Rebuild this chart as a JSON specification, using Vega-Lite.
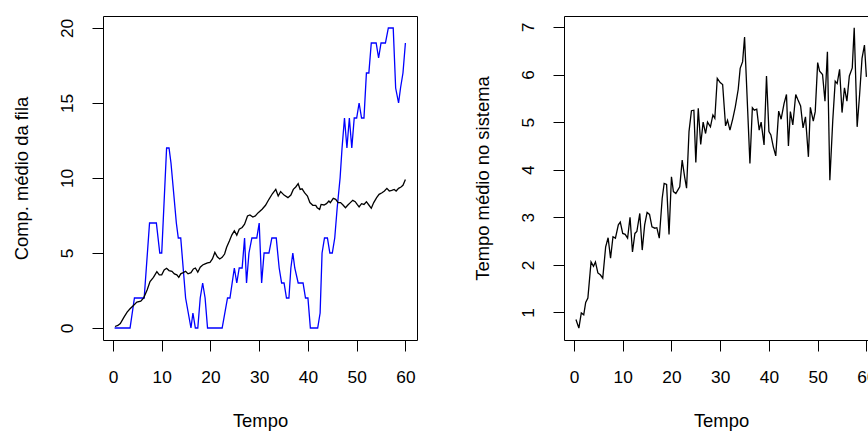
{
  "$schema": "https://vega.github.io/schema/vega-lite/v6.json",
  "background": "white",
  "padding": {"left": 11, "top": 15, "right": 0, "bottom": 0},
  "config": {
    "font": "Liberation Sans",
    "view": {"stroke": "black", "strokeWidth": 1},
    "axis": {"grid": false, "domain": false, "tickColor": "black", "tickSize": 11, "tickWidth": 1,
      "labelFontSize": 17.3, "titleFontSize": 18.4, "labelColor": "black", "titleColor": "black",
      "titleFontWeight": "normal", "labelFont": "Liberation Sans", "titleFont": "Liberation Sans"},
    "axisX": {"labelAngle": 0, "labelBaseline": "alphabetic", "labelPadding": 31, "titleBaseline": "alphabetic", "titlePadding": 41},
    "axisY": {"labelAngle": -90, "labelAlign": "center", "labelBaseline": "alphabetic", "labelPadding": 20, "titleBaseline": "alphabetic", "titlePadding": 31}
  },
  "datasets": {
    "fila": [
      {"t":0.33,"v":0,"s":"atual"},{"t":3.5,"v":0,"s":"atual"},{"t":4.4,"v":2,"s":"atual"},{"t":6.4,"v":2,"s":"atual"},{"t":7.5,"v":7,"s":"atual"},{"t":8.9,"v":7,"s":"atual"},{"t":9.6,"v":5,"s":"atual"},{"t":10.0,"v":5,"s":"atual"},{"t":11.0,"v":12,"s":"atual"},{"t":11.5,"v":12,"s":"atual"},{"t":11.9,"v":11,"s":"atual"},{"t":13.0,"v":7,"s":"atual"},{"t":13.4,"v":6,"s":"atual"},{"t":13.9,"v":6,"s":"atual"},{"t":14.9,"v":2,"s":"atual"},{"t":16.0,"v":0,"s":"atual"},{"t":16.4,"v":1,"s":"atual"},{"t":16.9,"v":0,"s":"atual"},{"t":17.4,"v":0,"s":"atual"},{"t":17.9,"v":2,"s":"atual"},{"t":18.4,"v":3,"s":"atual"},{"t":18.9,"v":2,"s":"atual"},{"t":19.4,"v":0,"s":"atual"},{"t":22.4,"v":0,"s":"atual"},{"t":23.5,"v":2,"s":"atual"},{"t":24.0,"v":2,"s":"atual"},{"t":24.9,"v":4,"s":"atual"},{"t":25.4,"v":3,"s":"atual"},{"t":25.9,"v":4,"s":"atual"},{"t":26.5,"v":4,"s":"atual"},{"t":27.0,"v":6,"s":"atual"},{"t":27.4,"v":3,"s":"atual"},{"t":27.9,"v":5,"s":"atual"},{"t":28.5,"v":6,"s":"atual"},{"t":29.5,"v":6,"s":"atual"},{"t":30.0,"v":7,"s":"atual"},{"t":30.5,"v":3,"s":"atual"},{"t":31.0,"v":5,"s":"atual"},{"t":32.0,"v":5,"s":"atual"},{"t":32.6,"v":6,"s":"atual"},{"t":33.5,"v":6,"s":"atual"},{"t":34.1,"v":4,"s":"atual"},{"t":34.6,"v":3,"s":"atual"},{"t":35.1,"v":3,"s":"atual"},{"t":35.6,"v":2,"s":"atual"},{"t":36.1,"v":2,"s":"atual"},{"t":36.5,"v":4,"s":"atual"},{"t":36.9,"v":5,"s":"atual"},{"t":37.3,"v":4,"s":"atual"},{"t":38.0,"v":3,"s":"atual"},{"t":39.0,"v":3,"s":"atual"},{"t":39.5,"v":2,"s":"atual"},{"t":40.0,"v":2,"s":"atual"},{"t":40.5,"v":0,"s":"atual"},{"t":42.0,"v":0,"s":"atual"},{"t":42.5,"v":1,"s":"atual"},{"t":42.9,"v":5,"s":"atual"},{"t":43.4,"v":6,"s":"atual"},{"t":44.0,"v":6,"s":"atual"},{"t":44.5,"v":5,"s":"atual"},{"t":45.0,"v":5,"s":"atual"},{"t":45.5,"v":6,"s":"atual"},{"t":46.0,"v":8,"s":"atual"},{"t":46.6,"v":10,"s":"atual"},{"t":47.0,"v":12,"s":"atual"},{"t":47.5,"v":14,"s":"atual"},{"t":48.0,"v":12,"s":"atual"},{"t":48.5,"v":14,"s":"atual"},{"t":49.0,"v":12,"s":"atual"},{"t":49.5,"v":14,"s":"atual"},{"t":50.0,"v":14,"s":"atual"},{"t":50.5,"v":15,"s":"atual"},{"t":51.0,"v":14,"s":"atual"},{"t":51.5,"v":14,"s":"atual"},{"t":52.0,"v":17,"s":"atual"},{"t":52.5,"v":17,"s":"atual"},{"t":53.0,"v":19,"s":"atual"},{"t":54.0,"v":19,"s":"atual"},{"t":54.5,"v":18,"s":"atual"},{"t":55.0,"v":19,"s":"atual"},{"t":55.9,"v":19,"s":"atual"},{"t":56.5,"v":20,"s":"atual"},{"t":57.5,"v":20,"s":"atual"},{"t":58.0,"v":16,"s":"atual"},{"t":58.6,"v":15,"s":"atual"},{"t":59.0,"v":16,"s":"atual"},{"t":59.5,"v":17,"s":"atual"},{"t":60.0,"v":19,"s":"atual"},
      {"t":0.41,"v":0.1,"s":"media"},{"t":1.0,"v":0.17,"s":"media"},{"t":1.5,"v":0.3,"s":"media"},{"t":2.2,"v":0.69,"s":"media"},{"t":2.9,"v":1.06,"s":"media"},{"t":3.5,"v":1.28,"s":"media"},{"t":4.2,"v":1.5,"s":"media"},{"t":4.9,"v":1.73,"s":"media"},{"t":5.7,"v":1.79,"s":"media"},{"t":6.3,"v":2.01,"s":"media"},{"t":7.0,"v":2.54,"s":"media"},{"t":7.6,"v":3.1,"s":"media"},{"t":8.3,"v":3.38,"s":"media"},{"t":9.0,"v":3.76,"s":"media"},{"t":9.5,"v":3.54,"s":"media"},{"t":10.0,"v":3.54,"s":"media"},{"t":10.5,"v":3.87,"s":"media"},{"t":11.0,"v":3.98,"s":"media"},{"t":11.5,"v":3.83,"s":"media"},{"t":12.1,"v":3.78,"s":"media"},{"t":12.6,"v":3.61,"s":"media"},{"t":13.1,"v":3.54,"s":"media"},{"t":13.5,"v":3.38,"s":"media"},{"t":13.9,"v":3.61,"s":"media"},{"t":14.4,"v":3.69,"s":"media"},{"t":14.9,"v":3.78,"s":"media"},{"t":15.4,"v":3.61,"s":"media"},{"t":16.0,"v":3.69,"s":"media"},{"t":16.5,"v":3.94,"s":"media"},{"t":16.9,"v":4.0,"s":"media"},{"t":17.4,"v":3.72,"s":"media"},{"t":17.9,"v":4.05,"s":"media"},{"t":18.4,"v":4.2,"s":"media"},{"t":18.9,"v":4.27,"s":"media"},{"t":19.4,"v":4.34,"s":"media"},{"t":19.9,"v":4.38,"s":"media"},{"t":20.4,"v":4.6,"s":"media"},{"t":20.9,"v":5.04,"s":"media"},{"t":21.4,"v":4.75,"s":"media"},{"t":21.9,"v":4.6,"s":"media"},{"t":22.4,"v":4.71,"s":"media"},{"t":22.9,"v":4.93,"s":"media"},{"t":23.3,"v":5.37,"s":"media"},{"t":23.9,"v":5.81,"s":"media"},{"t":24.4,"v":6.21,"s":"media"},{"t":24.9,"v":6.48,"s":"media"},{"t":25.4,"v":6.19,"s":"media"},{"t":25.9,"v":6.59,"s":"media"},{"t":26.5,"v":6.7,"s":"media"},{"t":27.0,"v":6.92,"s":"media"},{"t":27.6,"v":7.47,"s":"media"},{"t":28.1,"v":7.54,"s":"media"},{"t":28.7,"v":7.4,"s":"media"},{"t":29.2,"v":7.47,"s":"media"},{"t":29.8,"v":7.69,"s":"media"},{"t":30.6,"v":7.92,"s":"media"},{"t":31.3,"v":8.18,"s":"media"},{"t":32.0,"v":8.58,"s":"media"},{"t":32.7,"v":8.95,"s":"media"},{"t":33.4,"v":9.24,"s":"media"},{"t":33.9,"v":8.8,"s":"media"},{"t":34.4,"v":9.09,"s":"media"},{"t":35.1,"v":8.86,"s":"media"},{"t":35.9,"v":8.69,"s":"media"},{"t":36.5,"v":8.86,"s":"media"},{"t":37.0,"v":9.24,"s":"media"},{"t":37.5,"v":9.4,"s":"media"},{"t":38.0,"v":9.62,"s":"media"},{"t":38.4,"v":9.24,"s":"media"},{"t":38.8,"v":9.28,"s":"media"},{"t":39.3,"v":9.02,"s":"media"},{"t":39.9,"v":8.8,"s":"media"},{"t":40.4,"v":8.36,"s":"media"},{"t":41.0,"v":8.18,"s":"media"},{"t":41.6,"v":8.18,"s":"media"},{"t":41.9,"v":8.02,"s":"media"},{"t":42.4,"v":7.91,"s":"media"},{"t":42.7,"v":8.24,"s":"media"},{"t":43.3,"v":8.2,"s":"media"},{"t":43.8,"v":8.29,"s":"media"},{"t":44.3,"v":8.47,"s":"media"},{"t":44.6,"v":8.36,"s":"media"},{"t":45.2,"v":8.64,"s":"media"},{"t":45.7,"v":8.58,"s":"media"},{"t":46.2,"v":8.36,"s":"media"},{"t":46.7,"v":8.36,"s":"media"},{"t":47.2,"v":8.2,"s":"media"},{"t":47.7,"v":8.02,"s":"media"},{"t":48.2,"v":8.2,"s":"media"},{"t":48.7,"v":8.36,"s":"media"},{"t":49.2,"v":8.51,"s":"media"},{"t":49.7,"v":8.42,"s":"media"},{"t":50.1,"v":8.24,"s":"media"},{"t":50.5,"v":8.07,"s":"media"},{"t":51.0,"v":8.29,"s":"media"},{"t":51.5,"v":8.24,"s":"media"},{"t":52.0,"v":8.42,"s":"media"},{"t":52.5,"v":8.2,"s":"media"},{"t":53.0,"v":7.98,"s":"media"},{"t":53.5,"v":8.36,"s":"media"},{"t":54.1,"v":8.69,"s":"media"},{"t":54.6,"v":8.91,"s":"media"},{"t":55.2,"v":9.02,"s":"media"},{"t":55.7,"v":9.13,"s":"media"},{"t":56.2,"v":9.31,"s":"media"},{"t":56.7,"v":9.13,"s":"media"},{"t":57.2,"v":9.17,"s":"media"},{"t":57.7,"v":9.24,"s":"media"},{"t":58.1,"v":9.13,"s":"media"},{"t":58.6,"v":9.31,"s":"media"},{"t":59.1,"v":9.4,"s":"media"},{"t":59.5,"v":9.51,"s":"media"},{"t":60.0,"v":9.9,"s":"media"}
    ],
    "tempo": [
      {"t":0.4,"v":0.85},{"t":1.0,"v":0.67},{"t":1.5,"v":0.99},{"t":2.0,"v":0.95},{"t":2.4,"v":1.21},{"t":2.85,"v":1.3},{"t":3.5,"v":2.06},{"t":4.0,"v":1.97},{"t":4.4,"v":2.06},{"t":4.9,"v":1.83},{"t":5.4,"v":1.79},{"t":5.9,"v":1.72},{"t":6.5,"v":2.38},{"t":7.0,"v":2.57},{"t":7.5,"v":2.14},{"t":8.0,"v":2.59},{"t":8.5,"v":2.56},{"t":9.1,"v":2.84},{"t":9.5,"v":2.9},{"t":10.0,"v":2.66},{"t":10.5,"v":2.64},{"t":11.0,"v":2.56},{"t":11.5,"v":3.0},{"t":12.0,"v":2.27},{"t":12.5,"v":2.66},{"t":12.9,"v":2.7},{"t":13.5,"v":3.08},{"t":14.0,"v":2.31},{"t":14.5,"v":2.84},{"t":15.0,"v":3.1},{"t":15.5,"v":3.06},{"t":16.0,"v":2.8},{"t":16.6,"v":2.77},{"t":17.0,"v":2.78},{"t":17.5,"v":2.56},{"t":18.1,"v":3.4},{"t":18.5,"v":3.71},{"t":19.0,"v":3.69},{"t":19.5,"v":2.64},{"t":20.0,"v":3.85},{"t":20.4,"v":3.54},{"t":20.9,"v":3.5},{"t":21.3,"v":3.57},{"t":21.7,"v":3.64},{"t":22.2,"v":4.2},{"t":22.7,"v":3.85},{"t":23.1,"v":3.61},{"t":23.6,"v":4.8},{"t":24.1,"v":5.24},{"t":24.6,"v":5.25},{"t":25.0,"v":4.15},{"t":25.5,"v":5.29},{"t":26.0,"v":4.53},{"t":26.5,"v":5.0},{"t":27.0,"v":4.76},{"t":27.4,"v":5.0},{"t":28.0,"v":4.9},{"t":28.5,"v":5.15},{"t":28.9,"v":5.08},{"t":29.4,"v":5.92},{"t":30.0,"v":5.83},{"t":30.5,"v":5.79},{"t":31.1,"v":4.92},{"t":31.5,"v":5.04},{"t":32.0,"v":4.83},{"t":32.6,"v":5.08},{"t":33.1,"v":5.32},{"t":33.7,"v":5.69},{"t":34.1,"v":6.13},{"t":34.6,"v":6.27},{"t":35.0,"v":6.79},{"t":36.1,"v":4.13},{"t":36.6,"v":5.3},{"t":37.0,"v":5.25},{"t":37.5,"v":5.27},{"t":38.0,"v":4.83},{"t":38.4,"v":5.0},{"t":39.0,"v":4.52},{"t":39.5,"v":5.97},{"t":40.0,"v":4.8},{"t":40.4,"v":4.73},{"t":40.9,"v":4.48},{"t":41.4,"v":4.29},{"t":42.0,"v":5.23},{"t":42.5,"v":5.06},{"t":43.1,"v":5.39},{"t":43.6,"v":5.58},{"t":44.0,"v":4.5},{"t":44.4,"v":5.22},{"t":44.9,"v":4.94},{"t":45.5,"v":5.58},{"t":45.9,"v":5.48},{"t":46.5,"v":5.34},{"t":47.0,"v":4.88},{"t":47.5,"v":5.11},{"t":48.1,"v":4.27},{"t":48.5,"v":5.31},{"t":49.1,"v":5.02},{"t":49.5,"v":5.22},{"t":50.0,"v":6.25},{"t":50.4,"v":6.07},{"t":51.0,"v":6.0},{"t":51.5,"v":5.44},{"t":52.0,"v":6.48},{"t":52.5,"v":3.78},{"t":53.1,"v":5.04},{"t":53.6,"v":5.86},{"t":54.0,"v":5.81},{"t":54.5,"v":6.11},{"t":55.0,"v":5.2},{"t":55.5,"v":5.72},{"t":56.0,"v":5.44},{"t":56.5,"v":5.97},{"t":57.1,"v":6.14},{"t":57.5,"v":6.98},{"t":58.1,"v":4.9},{"t":58.6,"v":5.57},{"t":59.1,"v":6.34},{"t":59.6,"v":6.62},{"t":60.0,"v":5.95}
    ]
  },
  "bounds": "flush",
  "spacing": 147,
  "hconcat": [
    {
      "width": 314, "height": 324,
      "data": {"name": "fila"},
      "mark": {"type": "line", "strokeWidth": 1.3},
      "encoding": {
        "x": {"field": "t", "type": "quantitative", "scale": {"domain": [-2.05, 62.38], "nice": false, "zero": false}, "axis": {"values": [0,10,20,30,40,50,60], "title": "Tempo"}},
        "y": {"field": "v", "type": "quantitative", "scale": {"domain": [-0.8, 20.8], "nice": false, "zero": false}, "axis": {"values": [0,5,10,15,20], "title": "Comp. médio da fila"}},
        "color": {"field": "s", "type": "nominal", "scale": {"domain": ["atual", "media"], "range": ["#0000ff", "#000000"]}, "legend": null}
      }
    },
    {
      "width": 314, "height": 324,
      "data": {"name": "tempo"},
      "mark": {"type": "line", "strokeWidth": 1.3, "color": "black"},
      "encoding": {
        "x": {"field": "t", "type": "quantitative", "scale": {"domain": [-2.05, 62.38], "nice": false, "zero": false}, "axis": {"values": [0,10,20,30,40,50,60], "title": "Tempo"}},
        "y": {"field": "v", "type": "quantitative", "scale": {"domain": [0.42, 7.23], "nice": false, "zero": false}, "axis": {"values": [1,2,3,4,5,6,7], "title": "Tempo médio no sistema"}}
      }
    }
  ]
}
